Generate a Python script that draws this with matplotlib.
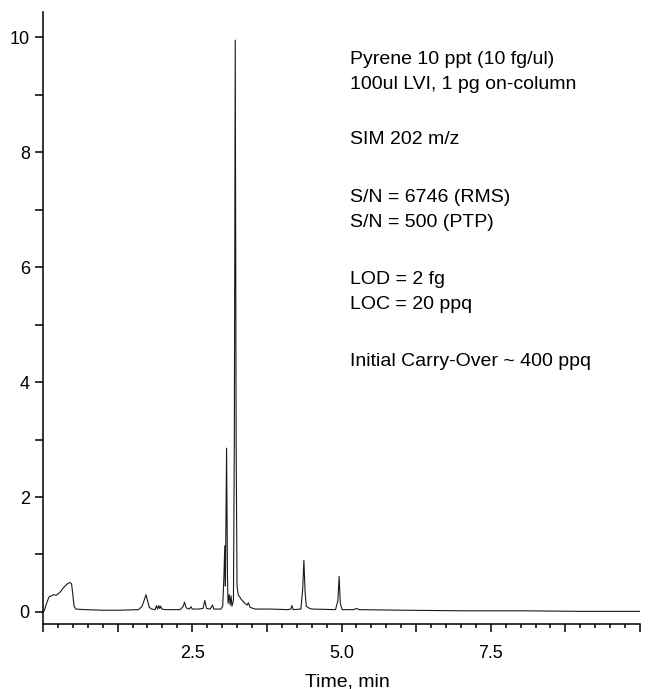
import numpy as np
import matplotlib
matplotlib.use('Agg')
import matplotlib.pyplot as plt
from matplotlib.ticker import MultipleLocator, FuncFormatter

plt.rcParams['font.family'] = ['Liberation Sans', 'DejaVu Sans']

# chromatogram trace, SIM 202 m/z (time in min, intensity)
time = [0.00, 0.02, 0.06, 0.10, 0.14, 0.18, 0.22, 0.26, 0.30, 0.34, 0.38, 0.42, 0.46, 0.48,
        0.50, 0.52, 0.55, 0.70, 1.00, 1.30, 1.60, 1.66, 1.70, 1.725, 1.75, 1.78, 1.82,
        1.88, 1.90, 1.92, 1.94, 1.955, 1.97, 1.99, 2.05, 2.30, 2.35, 2.37, 2.40, 2.45,
        2.48, 2.50, 2.60, 2.68, 2.71, 2.74, 2.80, 2.84, 2.86, 2.98, 3.01, 3.03, 3.045,
        3.055, 3.075, 3.09, 3.10, 3.12, 3.135, 3.15, 3.165, 3.19, 3.205, 3.22, 3.235,
        3.25, 3.27, 3.32, 3.38, 3.42, 3.44, 3.47, 3.55, 3.80, 4.10, 4.15, 4.17, 4.19,
        4.32, 4.35, 4.37, 4.39, 4.41, 4.45, 4.50, 4.90, 4.94, 4.96, 4.98, 5.01, 5.20,
        5.25, 5.30, 6.00, 7.00, 8.00, 9.00, 10.0]
signal = [0.00, 0.02, 0.15, 0.26, 0.28, 0.30, 0.29, 0.32, 0.36, 0.42, 0.46, 0.50, 0.51, 0.48,
          0.30, 0.10, 0.05, 0.04, 0.03, 0.03, 0.04, 0.10, 0.22, 0.30, 0.20, 0.08, 0.05,
          0.04, 0.11, 0.05, 0.11, 0.06, 0.10, 0.05, 0.04, 0.04, 0.10, 0.17, 0.07, 0.05,
          0.09, 0.05, 0.05, 0.06, 0.20, 0.06, 0.05, 0.12, 0.05, 0.05, 0.10, 0.60, 1.15,
          0.45, 2.85, 0.60, 0.15, 0.30, 0.12, 0.28, 0.10, 0.20, 3.00, 9.95, 3.00,
          0.45, 0.30, 0.22, 0.15, 0.12, 0.16, 0.08, 0.05, 0.05, 0.04, 0.05, 0.11, 0.04,
          0.05, 0.40, 0.90, 0.35, 0.10, 0.07, 0.05, 0.04, 0.20, 0.62, 0.15, 0.04, 0.04,
          0.06, 0.04, 0.03, 0.02, 0.02, 0.01, 0.01]

notes = ['Pyrene 10 ppt (10 fg/ul)', '100ul LVI, 1 pg on-column', 'SIM 202 m/z',
         'S/N = 6746 (RMS)', 'S/N = 500 (PTP)', 'LOD = 2 fg', 'LOC = 20 ppq',
         'Initial Carry-Over ~ 400 ppq']

W, H = 648, 689
fig = plt.figure(figsize=(W / 100, H / 100), dpi=100)
ax = fig.add_axes([43 / W, 1 - 624 / H, (640 - 43) / W, (624 - 12) / H])

ax.plot(time, signal, color='#1a1a1a', lw=0.8)

ax.set_xlim(0, 10)
ax.set_ylim(-0.21, 10.44)
for s in ['top', 'right']:
    ax.spines[s].set_visible(False)
for s in ['left', 'bottom']:
    ax.spines[s].set_linewidth(1.1)

ax.xaxis.set_major_locator(MultipleLocator(1.25))
ax.xaxis.set_minor_locator(MultipleLocator(0.25))
ax.xaxis.set_major_formatter(FuncFormatter(
    lambda v, p: f'{v:.1f}' if abs(v / 2.5 - round(v / 2.5)) < 1e-6 and 0 < v < 10 else ''))
ax.yaxis.set_major_locator(MultipleLocator(2))
ax.yaxis.set_minor_locator(MultipleLocator(1))

ax.tick_params(axis='x', which='major', length=5.5, width=1.1, labelsize=13, pad=9.5)
ax.tick_params(axis='x', which='minor', length=3, width=1.1)
ax.tick_params(axis='y', which='both', length=5.5, width=1.1, labelsize=13, pad=4)

fig.text(347 / W, 1 - 686.5 / H, 'Time, min', ha='center', va='baseline', fontsize=14)

baselines = [64, 89, 144, 201.5, 226.5, 284, 309, 366]
for line, yb in zip(notes, baselines):
    fig.text(350 / W, 1 - yb / H, line, ha='left', va='baseline', fontsize=14)

fig.savefig('out.png', dpi=100)
